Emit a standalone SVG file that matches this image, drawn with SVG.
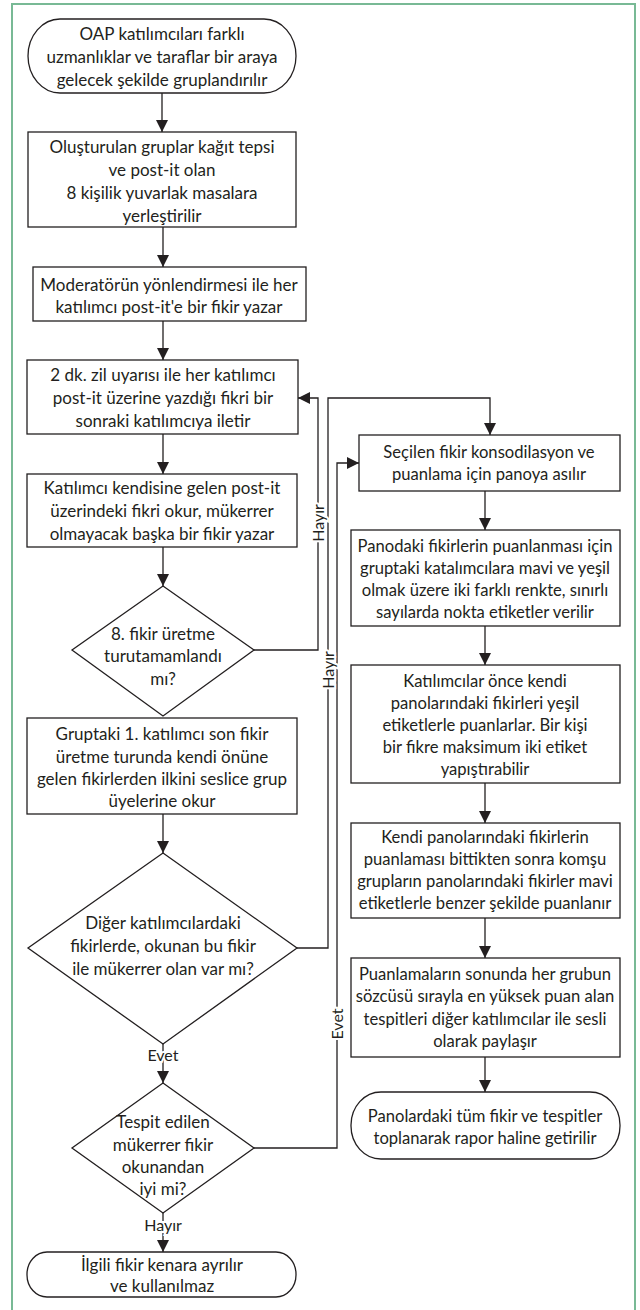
<svg xmlns="http://www.w3.org/2000/svg" width="640" height="1310" viewBox="0 0 640 1310">
<style>
  .shape{fill:#fff;stroke:#231f20;stroke-width:1.3}
  .t{font-family:Lato,"Liberation Sans",sans-serif;font-size:17px;fill:#231f20;text-anchor:middle}
  .r{font-size:16.6px}
  .ln{fill:none;stroke:#231f20;stroke-width:1.3}
  .lbl{font-family:Lato,"Liberation Sans",sans-serif;font-size:16px;fill:#231f20;text-anchor:middle;paint-order:stroke;stroke:#fff;stroke-width:4px}
</style>
<defs>
  <marker id="ah" markerUnits="userSpaceOnUse" markerWidth="12" markerHeight="12" viewBox="0 0 12 12" refX="12" refY="6" orient="auto">
    <path d="M0,0 L12,6 L0,12 Z" fill="#231f20"/>
  </marker>
</defs>
<rect x="12" y="4" width="623" height="1312" fill="none" stroke="#78b995" stroke-width="2"/>

<g id="connectors">
  <path class="ln" d="M162,93 V132" marker-end="url(#ah)"/>
  <path class="ln" d="M163,227 V267" marker-end="url(#ah)"/>
  <path class="ln" d="M163,321 V360" marker-end="url(#ah)"/>
  <path class="ln" d="M163,434 V474" marker-end="url(#ah)"/>
  <path class="ln" d="M163,547 V586" marker-end="url(#ah)"/>
  <path class="ln" d="M163,814 V853" marker-end="url(#ah)"/>
  <path class="ln" d="M163,1044 V1083" marker-end="url(#ah)"/>
  <path class="ln" d="M163,1213 V1252" marker-end="url(#ah)"/>
  <path class="ln" d="M254,650 H318 V398 H298" marker-end="url(#ah)"/>
  <path class="ln" d="M297,948 H328 V398 H490 V435" marker-end="url(#ah)"/>
  <path class="ln" d="M254,1148 H337 V463 H359" marker-end="url(#ah)"/>
  <path class="ln" d="M485,491 V530" marker-end="url(#ah)"/>
  <path class="ln" d="M485,626 V665" marker-end="url(#ah)"/>
  <path class="ln" d="M485,783 V823" marker-end="url(#ah)"/>
  <path class="ln" d="M485,918 V958" marker-end="url(#ah)"/>
  <path class="ln" d="M485,1057 V1092" marker-end="url(#ah)"/>
  <text class="lbl" transform="translate(323.5,523) rotate(-90)">Hayır</text>
  <text class="lbl" transform="translate(333.5,670) rotate(-90)">Hayır</text>
  <text class="lbl" transform="translate(342.5,1024) rotate(-90)">Evet</text>
  <text class="lbl" x="163" y="1061">Evet</text>
  <text class="lbl" x="163" y="1231">Hayır</text>
</g>

<g id="n1">
  <rect class="shape" x="28" y="19" width="268" height="74" rx="32" ry="37"/>
  <text class="t" x="162" y="40">OAP katılımcıları farklı</text>
  <text class="t" x="162" y="63">uzmanlıklar ve taraflar bir araya</text>
  <text class="t" x="162" y="86">gelecek şekilde gruplandırılır</text>
</g>
<g id="n2">
  <rect class="shape" x="28" y="132" width="268" height="95"/>
  <text class="t" x="162" y="153">Oluşturulan gruplar kağıt tepsi</text>
  <text class="t" x="162" y="176">ve post-it olan</text>
  <text class="t" x="162" y="199">8 kişilik yuvarlak masalara</text>
  <text class="t" x="162" y="222">yerleştirilir</text>
</g>
<g id="n3">
  <rect class="shape" x="33" y="267" width="273" height="54"/>
  <text class="t" x="169" y="291">Moderatörün yönlendirmesi ile her</text>
  <text class="t" x="169" y="313">katılımcı post-it'e bir fikir yazar</text>
</g>
<g id="n4">
  <rect class="shape" x="27" y="360" width="271" height="74"/>
  <text class="t" x="163" y="381">2 dk. zil uyarısı ile her katılımcı</text>
  <text class="t" x="163" y="404">post-it üzerine yazdığı fikri bir</text>
  <text class="t" x="163" y="427">sonraki katılımcıya iletir</text>
</g>
<g id="n5">
  <rect class="shape" x="27" y="474" width="270" height="73"/>
  <text class="t" x="162" y="494">Katılımcı kendisine gelen post-it</text>
  <text class="t" x="162" y="517">üzerindeki fikri okur, mükerrer</text>
  <text class="t" x="162" y="540">olmayacak başka bir fikir yazar</text>
</g>
<g id="n6">
  <path class="shape" d="M163,586 L254,650 L163,716 L72,650 Z"/>
  <text class="t" x="163" y="640">8. fikir üretme</text>
  <text class="t" x="163" y="662">turutamamlandı</text>
  <text class="t" x="163" y="685">mı?</text>
</g>
<g id="n7">
  <rect class="shape" x="27" y="718" width="270" height="96"/>
  <text class="t" x="162" y="740">Gruptaki 1. katılımcı son fikir</text>
  <text class="t" x="162" y="763">üretme turunda kendi önüne</text>
  <text class="t" x="162" y="785">gelen fikirlerden ilkini seslice grup</text>
  <text class="t" x="162" y="807">üyelerine okur</text>
</g>
<g id="n8">
  <path class="shape" d="M163,853 L297,948 L163,1044 L28,948 Z"/>
  <text class="t" x="163" y="929">Diğer katılımcılardaki</text>
  <text class="t" x="163" y="952">fikirlerde, okunan bu fikir</text>
  <text class="t" x="163" y="975">ile mükerrer olan var mı?</text>
</g>
<g id="n9">
  <path class="shape" d="M163,1083 L254,1148 L163,1213 L72,1148 Z"/>
  <text class="t" x="163" y="1128">Tespit edilen</text>
  <text class="t" x="163" y="1151">mükerrer fikir</text>
  <text class="t" x="163" y="1173">okunandan</text>
  <text class="t" x="163" y="1195">iyi mi?</text>
</g>
<g id="n10">
  <rect class="shape" x="27" y="1252" width="269" height="45" rx="20" ry="22"/>
  <text class="t" x="162" y="1271">İlgili fikir kenara ayrılır</text>
  <text class="t" x="162" y="1292">ve kullanılmaz</text>
</g>
<g id="n11">
  <rect class="shape" x="359" y="435" width="261" height="56"/>
  <text class="t r" x="489" y="458">Seçilen fikir konsodilasyon ve</text>
  <text class="t r" x="489" y="480">puanlama için panoya asılır</text>
</g>
<g id="n12">
  <rect class="shape" x="351" y="530" width="269" height="96"/>
  <text class="t r" x="485" y="552">Panodaki fikirlerin puanlanması için</text>
  <text class="t r" x="485" y="574">gruptaki katalımcılara mavi ve yeşil</text>
  <text class="t r" x="485" y="596">olmak üzere iki farklı renkte, sınırlı</text>
  <text class="t r" x="485" y="618">sayılarda nokta etiketler verilir</text>
</g>
<g id="n13">
  <rect class="shape" x="351" y="665" width="269" height="118"/>
  <text class="t r" x="485" y="687">Katılımcılar önce kendi</text>
  <text class="t r" x="485" y="709">panolarındaki fikirleri yeşil</text>
  <text class="t r" x="485" y="731">etiketlerle puanlarlar. Bir kişi</text>
  <text class="t r" x="485" y="753">bir fikre maksimum iki etiket</text>
  <text class="t r" x="485" y="775">yapıştırabilir</text>
</g>
<g id="n14">
  <rect class="shape" x="351" y="823" width="269" height="95"/>
  <text class="t r" x="485" y="843">Kendi panolarındaki fikirlerin</text>
  <text class="t r" x="485" y="865">puanlaması bittikten sonra komşu</text>
  <text class="t r" x="485" y="887">grupların panolarındaki fikirler mavi</text>
  <text class="t r" x="485" y="909">etiketlerle benzer şekilde puanlanır</text>
</g>
<g id="n15">
  <rect class="shape" x="351" y="958" width="269" height="99"/>
  <text class="t r" x="485" y="980">Puanlamaların sonunda her grubun</text>
  <text class="t r" x="485" y="1002">sözcüsü sırayla en yüksek puan alan</text>
  <text class="t r" x="485" y="1025">tespitleri diğer katılımcılar ile sesli</text>
  <text class="t r" x="485" y="1047">olarak paylaşır</text>
</g>
<g id="n16">
  <rect class="shape" x="351" y="1092" width="269" height="67" rx="30" ry="33"/>
  <text class="t r" x="485" y="1122">Panolardaki tüm fikir ve tespitler</text>
  <text class="t r" x="485" y="1144">toplanarak rapor haline getirilir</text>
</g>
</svg>
